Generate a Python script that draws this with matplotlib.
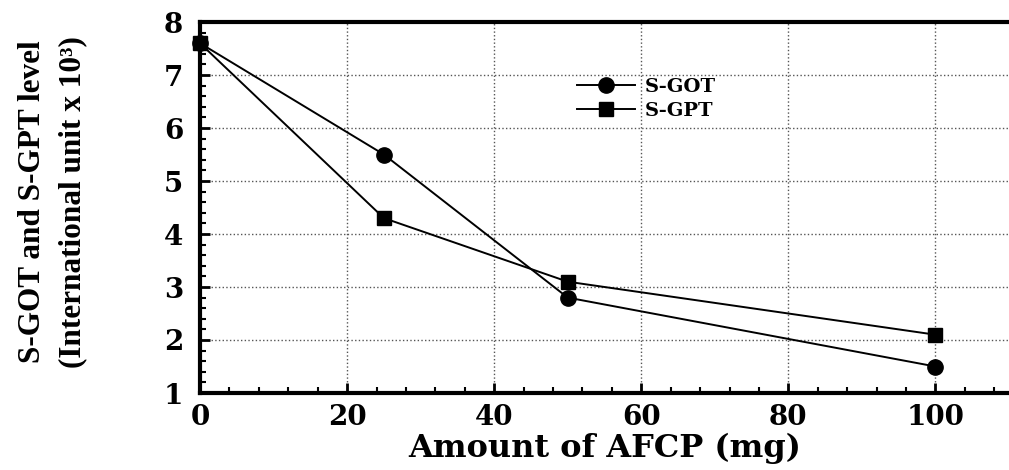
import matplotlib
matplotlib.use("Agg")
import matplotlib.pyplot as plt
from matplotlib.ticker import MultipleLocator

plt.rcParams['font.family'] = ['DejaVu Serif']
plt.rcParams['font.weight'] = 'bold'

amount = [0, 25, 50, 100]
sgot = [7.6, 5.5, 2.8, 1.5]
sgpt = [7.6, 4.3, 3.1, 2.1]
xticks = [0, 20, 40, 60, 80, 100]
yticks = [1, 2, 3, 4, 5, 6, 7, 8]

fig = plt.figure(figsize=(10.09, 4.70), dpi=100)
ax = fig.add_axes([200/1009, 1-393/470, 1-200/1009, (393-22)/470])

ax.plot(amount, sgot, '-', color='black', lw=1.4, marker='o', ms=11, label='S-GOT', clip_on=False, zorder=5)
ax.plot(amount, sgpt, '-', color='black', lw=1.4, marker='s', ms=9.5, label='S-GPT', clip_on=False, zorder=5)

ax.set_xlim(0, 110)
ax.set_ylim(1, 8)
ax.set_xticks(xticks)
ax.set_yticks(yticks)
ax.xaxis.set_minor_locator(MultipleLocator(4))
ax.yaxis.set_minor_locator(MultipleLocator(0.2))
ax.tick_params(which='major', direction='in', length=7, width=2, labelsize=20)
ax.tick_params(which='minor', direction='in', length=4, width=1.5)
ax.tick_params(axis='y', which='both', left=True, right=False, pad=12)
ax.tick_params(axis='x', which='both', bottom=True, top=False, pad=8)
for lab in ax.get_xticklabels() + ax.get_yticklabels():
    lab.set_fontweight('bold')
ax.grid(True, which='major', linestyle=':', color='#555555', lw=1)
for s in ['left', 'bottom', 'top']:
    ax.spines[s].set_linewidth(3)
ax.spines['right'].set_visible(False)

ax.set_xlabel('Amount of AFCP (mg)', fontsize=23, fontweight='bold', labelpad=1)

fig.text(0.052, 0.57, 'S-GOT and S-GPT level\n(International unit x 10³)', rotation=90,
         ha='center', va='center', fontsize=22.5, fontweight='bold', linespacing=1.5,
         multialignment='center', family='Liberation Serif')

leg = ax.legend(loc='upper left', bbox_to_anchor=((577-200)/809, 1-(78-22)/371), frameon=False,
                prop={'family': 'DejaVu Serif', 'weight': 'bold', 'size': 14},
                handlelength=3.0, handletextpad=0.5, labelspacing=0.3,
                borderaxespad=0, borderpad=0)

fig.savefig('out.png', dpi=100)
